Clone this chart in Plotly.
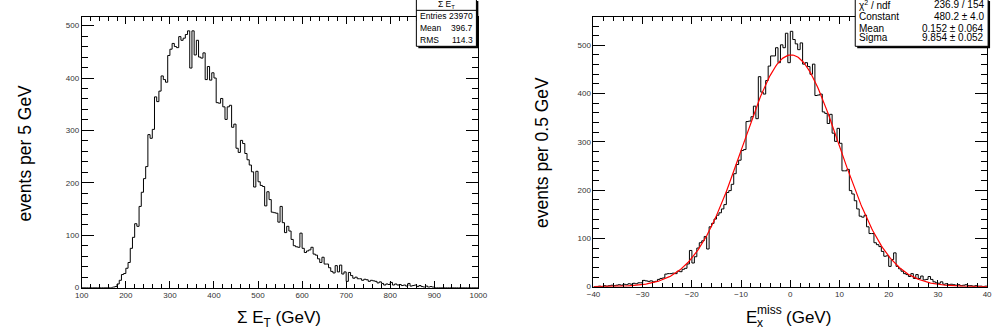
import numpy as np
import plotly.graph_objects as go

W, H = 1003, 335

# ---------------- data ----------------
# Sum E_T histogram: 5 GeV bins from 100 to 1000 GeV
sumet_lo = 100.0
sumet_bw = 5.0
sumet_counts = [
    0, 0, 0, 0, 0, 0, 0, 0, 0, 0,              # 100-145
    0, 0, 0, 0, 1, 2, 7, 14, 25, 27,           # 150-195
    37, 48, 75, 96, 122, 117, 155, 182, 208, 231,   # 200-245
    292, 285, 302, 364, 355, 375, 404, 397, 392, 443,  # 250-295
    455, 466, 460, 458, 479, 472, 476, 483, 490, 419,  # 300-345
    490, 444, 472, 440, 438, 448, 397, 422, 396, 410,  # 350-395
    400, 353, 352, 361, 345, 321, 345, 348, 306, 312,  # 400-445
    266, 258, 281, 275, 256, 244, 234, 221, 192, 222,  # 450-495
    202, 195, 193, 156, 183, 168, 144, 143, 142, 125,  # 500-545
    155, 124, 105, 117, 108, 92, 80, 78, 77, 104,      # 550-595
    75, 67, 70, 72, 77, 64, 62, 55, 48, 58,            # 600-645
    45, 45, 38, 31, 28, 42, 30, 43, 26, 30,            # 650-695
    12, 29, 23, 18, 20, 17, 17, 14, 16, 15,            # 700-745
    12, 14, 13, 12, 9, 11, 8, 5, 7, 6,                 # 750-795
    10, 5, 7, 5, 6, 4, 5, 3, 8, 3,                     # 800-845
    4, 5, 2, 4, 2, 1, 3, 1, 2, 1,                      # 850-895
    0, 0, 0, 0, 0, 0, 0, 0, 0, 0,                      # 900-945
    0, 0, 0, 0, 0, 0, 0, 0, 0, 0,                      # 950-995
]

# E_x^miss histogram: 0.5 GeV bins from -40 to 40 GeV
met_lo = -40.0
met_bw = 0.5
met_counts = [
    0, 0, 1, 0, 2, 1, 2, 3, 2, 3,                      # -40 .. -35.5
    4, 3, 5, 4, 6, 5, 7, 6, 8, 8,                      # -35 .. -30.5
    13, 12, 11, 12, 10, 11, 15, 17, 18, 26,            # -30 .. -25.5
    27, 27, 28, 27, 32, 31, 36, 38, 47, 75,            # -25 .. -20.5
    49, 62, 80, 91, 95, 104, 78, 124, 131, 140,        # -20 .. -15.5
    148, 153, 161, 170, 195, 199, 212, 234, 253, 262,  # -15 .. -10.5
    282, 284, 342, 343, 352, 374, 348, 435, 403, 399,  # -10 .. -5.5
    427, 457, 478, 478, 495, 464, 501, 495, 525, 464,  # -5 .. -0.5
    529, 512, 503, 491, 505, 461, 464, 456, 440, 461,  # 0 .. 4.5
    396, 397, 399, 362, 359, 338, 357, 318, 301, 328,  # 5 .. 9.5
    297, 240, 240, 243, 199, 192, 178, 161, 146, 144,  # 10 .. 14.5
    148, 124, 110, 110, 91, 87, 83, 73, 63, 64,        # 15 .. 19.5
    42, 56, 70, 42, 37, 32, 27, 25, 21, 27,            # 20 .. 24.5
    17, 25, 17, 22, 14, 15, 21, 15, 10, 8,             # 25 .. 29.5
    7, 10, 5, 6, 4, 5, 4, 3, 4, 2,                     # 30 .. 34.5
    3, 4, 2, 2, 1, 2, 1, 1, 0, 1,                      # 35 .. 39.5
]

# Gaussian fit parameters (from the fit box)
fit_const = 480.2
fit_mean = 0.152
fit_sigma = 9.854

left_xticks = list(range(100, 1001, 100))
left_yticks = list(range(0, 501, 100))
right_xticks = list(range(-40, 41, 10))
right_yticks = list(range(0, 501, 100))

left_stats = [("Entries", "23970"), ("Mean", "396.7"), ("RMS", "114.3")]
right_stats = [("χ<sup>2</sup> / ndf", "236.9 / 154"),
               ("Constant", "480.2 ± 4.0"),
               ("Mean", "0.152 ± 0.064"),
               ("Sigma", "9.854 ± 0.052")]

FONT = "Liberation Sans, Arial, Helvetica, sans-serif"


def px(x):
    return x / W


def py(y):
    return 1 - y / H


def step(lo, bw, counts):
    edges = lo + bw * np.arange(len(counts) + 1)
    ys = list(counts) + [counts[-1]]
    return edges, ys


fig = go.Figure()

ex, ey = step(sumet_lo, sumet_bw, sumet_counts)
fig.add_trace(go.Scatter(x=ex, y=ey, mode="lines", line=dict(shape="hv", color="black", width=1),
                         xaxis="x", yaxis="y", showlegend=False, hoverinfo="skip"))

mx, my = step(met_lo, met_bw, met_counts)
fig.add_trace(go.Scatter(x=mx, y=my, mode="lines", line=dict(shape="hv", color="black", width=1),
                         xaxis="x2", yaxis="y2", showlegend=False, hoverinfo="skip"))

fx = np.linspace(met_lo, met_lo + met_bw * len(met_counts), 400)
fy = fit_const * np.exp(-0.5 * ((fx - fit_mean) / fit_sigma) ** 2)
fig.add_trace(go.Scatter(x=fx, y=fy, mode="lines", line=dict(color="red", width=1.2),
                         xaxis="x2", yaxis="y2", showlegend=False, hoverinfo="skip"))

tickfont = dict(family=FONT, size=8, color="#333")


def xaxis(domain, rng, ticks, minor, anchor):
    return dict(domain=domain, range=rng, tickvals=ticks, ticks="inside", ticklen=7,
                tickcolor="black", tickwidth=1, showline=True, linecolor="black", linewidth=1,
                mirror="ticks", showgrid=False, zeroline=False, tickfont=tickfont,
                anchor=anchor, fixedrange=True,
                minor=dict(dtick=minor, tick0=rng[0], ticks="inside", ticklen=4,
                           tickcolor="black", tickwidth=1, showgrid=False))


def yaxis(domain, rng, ticks, anchor):
    return dict(domain=domain, range=rng, tickvals=ticks, ticks="inside", ticklen=12,
                tickcolor="black", tickwidth=1, showline=True, linecolor="black", linewidth=1,
                mirror="ticks", showgrid=False, zeroline=False, tickfont=tickfont,
                anchor=anchor, fixedrange=True,
                minor=dict(dtick=20, tick0=0, ticks="inside", ticklen=6,
                           tickcolor="black", tickwidth=1, showgrid=False))


fig.update_layout(
    width=W, height=H, autosize=False,
    margin=dict(l=0, r=0, t=0, b=0),
    paper_bgcolor="white", plot_bgcolor="white",
    xaxis=xaxis([px(76), px(479)], [100, 1000], left_xticks, 20, "y"),
    yaxis=yaxis([py(292), py(17)], [0, 275 / 0.532], left_yticks, "x"),
    xaxis2=xaxis([px(596), px(996)], [-40, 40], right_xticks, 2, "y2"),
    yaxis2=yaxis([py(291), py(17)], [0, 274 / 0.49], right_yticks, "x2"),
)

shapes = []
annos = []


def box(x0, y0, x1, y1):
    shapes.append(dict(type="rect", xref="paper", yref="paper",
                       x0=px(x0 + 2), x1=px(x1 + 2), y0=py(y1 + 2), y1=py(y0 + 2),
                       fillcolor="black", line=dict(width=0), layer="above"))
    shapes.append(dict(type="rect", xref="paper", yref="paper",
                       x0=px(x0), x1=px(x1), y0=py(y1), y1=py(y0),
                       fillcolor="white", line=dict(color="black", width=1), layer="above"))


def text(x, y, s, size, xanchor="left", angle=0, yanchor="middle"):
    annos.append(dict(x=px(x), y=py(y), xref="paper", yref="paper", text=s, showarrow=False,
                      xanchor=xanchor, yanchor=yanchor, textangle=angle,
                      font=dict(family=FONT, size=size, color="black")))


# left stats box
box(416, -1, 477, 47)
shapes.append(dict(type="line", xref="paper", yref="paper", x0=px(416), x1=px(477),
                   y0=py(10.5), y1=py(10.5), line=dict(color="black", width=1), layer="above"))
text(446.5, 5, "Σ E<sub>T</sub>", 8.5, xanchor="center")
for i, (k, v) in enumerate(left_stats):
    yy = 16.5 + 11.8 * i
    text(418, yy, k, 8.5)
    text(476, yy, v, 8.5, xanchor="right")

# right stats box
box(862, -1, 997, 47)
for i, (k, v) in enumerate(right_stats):
    yy = [5, 17, 29, 38.5][i]
    text(864, yy, k, 10)
    text(995, yy, v, 10, xanchor="right")

# axis titles
text(18, 155, "events per 5 GeV", 17.5, xanchor="center", angle=-90)
text(543, 155, "events per 0.5 GeV", 17.5, xanchor="center", angle=-90)
text(276, 324, "Σ E<sub>T</sub> (GeV)", 17, xanchor="center")
text(749, 322, "E", 17)
text(760, 315, "miss", 12)
text(760, 328, "x", 12)
text(790, 322, "(GeV)", 17)

fig.update_layout(shapes=shapes, annotations=annos)

fig.write_html("out.html")
